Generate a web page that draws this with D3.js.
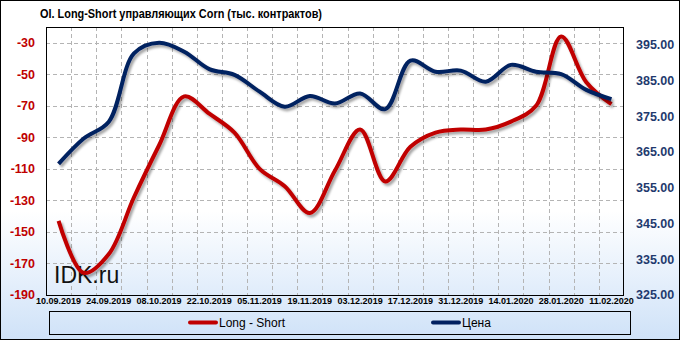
<!DOCTYPE html>
<html>
<head>
<meta charset="utf-8">
<script src="https://cdn.jsdelivr.net/npm/d3@7"></script>
<style>
  body { margin: 0; }
  svg { display: block; }
</style>
</head>
<body>
<div id="chart"></div>
<script>
//weekly dates (category axis)
const dates = ["10.09.2019", "17.09.2019", "24.09.2019", "01.10.2019", "08.10.2019", "15.10.2019",
    "22.10.2019", "29.10.2019", "05.11.2019", "12.11.2019", "19.11.2019", "26.11.2019",
    "03.12.2019", "10.12.2019", "17.12.2019", "24.12.2019", "31.12.2019", "07.01.2020",
    "14.01.2020", "21.01.2020", "28.01.2020", "04.02.2020", "11.02.2020"];

//OI long-short (thousand contracts), left axis
const longShort = [-143, -176, -164, -128, -95, -64, -75, -87, -110, -121, -138, -111,
    -85, -118, -96, -87, -85, -85, -80, -70, -26, -55, -69];

//price, right axis
const price = [361.7, 368.8, 373.5, 392.6, 395.6, 393.1, 388.2, 386.6, 381.9, 377.7, 380.7, 378.6,
    381.4, 377.0, 390.6, 387.5, 387.8, 384.7, 389.4, 387.5, 386.8, 382.4, 379.8];

const leftTicks = [-30, -50, -70, -90, -110, -130, -150, -170, -190];
const rightTicks = [395, 385, 375, 365, 355, 345, 335, 325];

const width = 680, height = 340;
const plot = { left: 46, right: 624, top: 27, bottom: 295 };

const svg = d3.select("#chart").append("svg")
    .attr("width", width)
    .attr("height", height);

const defs = svg.append("defs");

//background gradient
const grad = defs.append("linearGradient")
    .attr("id", "bg")
    .attr("x1", 0).attr("y1", 0).attr("x2", 0).attr("y2", 1);
grad.append("stop").attr("offset", "0").attr("stop-color", "#ffffff");
grad.append("stop").attr("offset", "0.62").attr("stop-color", "#ffffff");
grad.append("stop").attr("offset", "1").attr("stop-color", "#cfe2f8");

//shadow under the lines
const shadow = defs.append("filter")
    .attr("id", "shadow")
    .attr("x", "-5%").attr("y", "-5%").attr("width", "110%").attr("height", "110%");
shadow.append("feDropShadow")
    .attr("dx", 2).attr("dy", 2.5)
    .attr("stdDeviation", 1.3)
    .attr("flood-color", "#000")
    .attr("flood-opacity", 0.35);

svg.append("rect")
    .attr("x", 0.5).attr("y", 0.5)
    .attr("width", width - 1).attr("height", height - 1)
    .attr("fill", "url(#bg)")
    .attr("stroke", "#000");

//scales
const x = d3.scalePoint()
    .domain(dates)
    .range([plot.left, plot.right])
    .padding(0.5);

const yLeft = d3.scaleLinear()
    .domain([-190, -20])
    .range([plot.bottom, plot.top]);

const yRight = d3.scaleLinear()
    .domain([325, 400])
    .range([plot.bottom, plot.top]);

//grid
const grid = svg.append("g")
    .attr("stroke", "#b4b4b4")
    .attr("stroke-width", 1)
    .attr("stroke-dasharray", "4,3");

grid.selectAll("line.h")
    .data(leftTicks.filter(function(d){ return d > -190; }))
    .enter().append("line")
    .attr("class", "h")
    .attr("x1", plot.left).attr("x2", plot.right)
    .attr("y1", function(d){ return Math.round(yLeft(d)) + 0.5; })
    .attr("y2", function(d){ return Math.round(yLeft(d)) + 0.5; });

grid.selectAll("line.v")
    .data(dates.slice(1))
    .enter().append("line")
    .attr("class", "v")
    .attr("x1", function(d){ return Math.round(x(d) - x.step() / 2) + 0.5; })
    .attr("x2", function(d){ return Math.round(x(d) - x.step() / 2) + 0.5; })
    .attr("y1", plot.top).attr("y2", plot.bottom);

//plot border
svg.append("rect")
    .attr("x", plot.left + 0.5).attr("y", plot.top + 0.5)
    .attr("width", plot.right - plot.left - 1)
    .attr("height", plot.bottom - plot.top)
    .attr("fill", "none")
    .attr("stroke", "#000");

//watermark
svg.append("text")
    .attr("x", 54).attr("y", 283)
    .attr("font-family", "Liberation Sans, Arial, sans-serif")
    .attr("font-size", 23)
    .attr("fill", "#111")
    .text("IDK.ru");

//lines
const lineLeft = d3.line()
    .x(function(d, i){ return x(dates[i]); })
    .y(function(d){ return yLeft(d); })
    .curve(d3.curveCatmullRom.alpha(0.5));

const lineRight = d3.line()
    .x(function(d, i){ return x(dates[i]); })
    .y(function(d){ return yRight(d); })
    .curve(d3.curveCatmullRom.alpha(0.5));

svg.append("path")
    .datum(longShort)
    .attr("d", lineLeft)
    .attr("fill", "none")
    .attr("stroke", "#c00000")
    .attr("stroke-width", 4)
    .attr("stroke-linejoin", "round")
    .attr("filter", "url(#shadow)");

svg.append("path")
    .datum(price)
    .attr("d", lineRight)
    .attr("fill", "none")
    .attr("stroke", "#002060")
    .attr("stroke-width", 4)
    .attr("stroke-linejoin", "round")
    .attr("filter", "url(#shadow)");

//left axis labels
svg.append("g").selectAll("text")
    .data(leftTicks)
    .enter().append("text")
    .attr("x", 35)
    .attr("y", function(d){ return yLeft(d); })
    .attr("dy", "0.35em")
    .attr("text-anchor", "end")
    .attr("font-family", "Liberation Sans, Arial, sans-serif")
    .attr("font-weight", "bold")
    .attr("font-size", 12.5)
    .attr("fill", "#c00000")
    .text(function(d){ return d; });

//right axis labels
svg.append("g").selectAll("text")
    .data(rightTicks)
    .enter().append("text")
    .attr("x", 636)
    .attr("y", function(d){ return yRight(d); })
    .attr("dy", "0.35em")
    .attr("font-family", "Liberation Sans, Arial, sans-serif")
    .attr("font-weight", "bold")
    .attr("font-size", 12.5)
    .attr("fill", "#1f3a6e")
    .text(function(d){ return d.toFixed(2); });

//x labels, every second week
svg.append("g").selectAll("text")
    .data(dates.filter(function(d, i){ return i % 2 === 0; }))
    .enter().append("text")
    .attr("x", function(d){ return x(d); })
    .attr("y", 304)
    .attr("text-anchor", "middle")
    .attr("font-family", "Liberation Sans, Arial, sans-serif")
    .attr("font-weight", "bold")
    .attr("font-size", 9)
    .attr("fill", "#000")
    .text(function(d){ return d; });

//title (narrow face in the original, squeezed here)
svg.append("text")
    .attr("x", 40).attr("y", 18)
    .attr("font-family", "Liberation Sans, Arial, sans-serif")
    .attr("font-weight", "bold")
    .attr("font-size", 13.5)
    .attr("textLength", 282)
    .attr("lengthAdjust", "spacingAndGlyphs")
    .attr("fill", "#000")
    .text("OI. Long-Short управляющих Corn (тыс. контрактов)");

//legend
const legend = svg.append("g");
legend.append("rect")
    .attr("x", 49.5).attr("y", 311.5)
    .attr("width", 581).attr("height", 23)
    .attr("fill", "none")
    .attr("stroke", "#000");

const legendItems = [
    { name: "Long - Short", color: "#c00000", x: 190 },
    { name: "Цена", color: "#002060", x: 433 }
];

legend.selectAll("line")
    .data(legendItems)
    .enter().append("line")
    .attr("x1", function(d){ return d.x; })
    .attr("x2", function(d){ return d.x + 26; })
    .attr("y1", 322.5).attr("y2", 322.5)
    .attr("stroke", function(d){ return d.color; })
    .attr("stroke-width", 4)
    .attr("stroke-linecap", "round");

legend.selectAll("text")
    .data(legendItems)
    .enter().append("text")
    .attr("x", function(d){ return d.x + 29; })
    .attr("y", 322.5)
    .attr("dy", "0.35em")
    .attr("font-family", "Liberation Sans, Arial, sans-serif")
    .attr("font-size", 12)
    .attr("fill", "#000")
    .text(function(d){ return d.name; });
</script>
</body>
</html>
